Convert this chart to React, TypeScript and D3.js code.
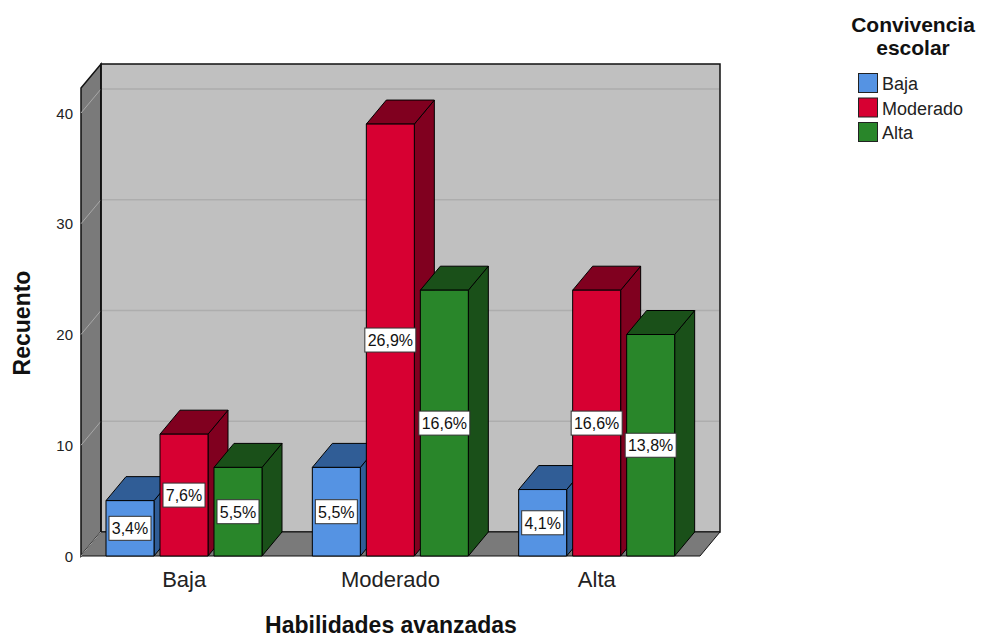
import React, { useEffect, useRef } from 'react';
import * as d3 from 'd3';

// data
const categories = ['Baja', 'Moderado', 'Alta'];
const seriesNames = ['Baja', 'Moderado', 'Alta'];
const bajaCounts = [5, 11, 8];
const moderadoCounts = [8, 39, 24];
const altaCounts = [6, 24, 20];
const percentLabels = [
    ['3,4%', '7,6%', '5,5%'],
    ['5,5%', '26,9%', '16,6%'],
    ['4,1%', '16,6%', '13,8%'],
];
const yTicks = [0, 10, 20, 30, 40];

const counts = [bajaCounts, moderadoCounts, altaCounts];

const frontColors = ['#5593e3', '#d70032', '#29862a'];
const darkColors = ['#305d96', '#80001f', '#1a5019'];

const FONT = '"Liberation Sans", Arial, sans-serif';

const Chart = () => {
    const svgRef = useRef<SVGSVGElement>(null);

    useEffect(() => {
        const svg = d3.select(svgRef.current);
        svg.selectAll('*').remove();

        const left = 81, right = 700, bottom = 556;
        const DX = 20, DY = -24; // depth offset of the 3D box

        const y = d3.scaleLinear().domain([0, 40]).range([bottom, 113]);
        const topVal = y.invert(88);

        const x0 = d3.scaleBand().domain(categories).range([left, right]);
        const x1 = d3.scaleBand().domain(seriesNames).range([25, 181]).paddingInner(0.111);

        const g = svg.append('g');
        const yTop = y(topVal);

        // left wall
        g.append('polygon')
            .attr('points', [[left, yTop], [left + DX, yTop + DY], [left + DX, bottom + DY], [left, bottom]].join(' '))
            .attr('fill', '#7a7a7a').attr('stroke', '#111').attr('stroke-width', 1.5);

        // back wall
        g.append('rect')
            .attr('x', left + DX).attr('y', yTop + DY)
            .attr('width', right - left).attr('height', bottom - yTop)
            .attr('fill', '#c0c0c0').attr('stroke', '#111').attr('stroke-width', 1.5);

        // floor
        g.append('polygon')
            .attr('points', [[left, bottom], [left + DX, bottom + DY], [right + DX, bottom + DY], [right, bottom]].join(' '))
            .attr('fill', '#7a7a7a').attr('stroke', '#111').attr('stroke-width', 1);

        // gridlines
        yTicks.forEach(t => {
            if (t > 0) {
                g.append('line')
                    .attr('x1', left + DX + 1).attr('x2', right + DX - 1)
                    .attr('y1', y(t) + DY).attr('y2', y(t) + DY)
                    .attr('stroke', '#adadad').attr('stroke-width', 1.5);
            }
            g.append('line')
                .attr('x1', left).attr('x2', left + DX)
                .attr('y1', y(t)).attr('y2', y(t) + DY)
                .attr('stroke', '#a8a8a8').attr('stroke-width', 1);
        });
        // redraw left wall front edge
        g.append('line').attr('x1', left + DX).attr('x2', left + DX)
            .attr('y1', yTop + DY).attr('y2', bottom + DY)
            .attr('stroke', '#111').attr('stroke-width', 1.5);

        // bars
        categories.forEach((cat, ci) => {
            seriesNames.forEach((s, si) => {
                const v = counts[ci][si];
                const bx = (x0(cat) as number) + (x1(s) as number);
                const bw = x1.bandwidth();
                const by = y(v);
                const bg = g.append('g').attr('stroke', '#000').attr('stroke-width', 1).attr('stroke-linejoin', 'round');
                bg.append('polygon')
                    .attr('points', [[bx + bw, by], [bx + bw + DX, by + DY], [bx + bw + DX, bottom + DY], [bx + bw, bottom]].join(' '))
                    .attr('fill', darkColors[si]);
                bg.append('polygon')
                    .attr('points', [[bx, by], [bx + DX, by + DY], [bx + bw + DX, by + DY], [bx + bw, by]].join(' '))
                    .attr('fill', darkColors[si]);
                bg.append('rect')
                    .attr('x', bx).attr('y', by).attr('width', bw).attr('height', bottom - by)
                    .attr('fill', frontColors[si]);
            });
        });

        // value labels
        categories.forEach((cat, ci) => {
            seriesNames.forEach((s, si) => {
                const v = counts[ci][si];
                const cx = (x0(cat) as number) + (x1(s) as number) + x1.bandwidth() / 2;
                const cy = (y(v) + bottom) / 2;
                const label = percentLabels[ci][si];
                const w = label.length > 4 ? 51 : 42;
                g.append('rect')
                    .attr('x', cx - w / 2).attr('y', cy - 12)
                    .attr('width', w).attr('height', 24)
                    .attr('fill', '#fff').attr('stroke', '#333').attr('stroke-width', 1);
                g.append('text')
                    .attr('x', cx).attr('y', cy + 6)
                    .attr('text-anchor', 'middle')
                    .attr('font-family', FONT).attr('font-size', 16)
                    .attr('fill', '#111')
                    .text(label);
            });
        });

        // y tick labels
        yTicks.forEach(t => {
            g.append('text')
                .attr('x', 73).attr('y', y(t) + 5.5)
                .attr('text-anchor', 'end')
                .attr('font-family', FONT).attr('font-size', 15)
                .attr('fill', '#222')
                .text(t);
        });

        // category labels
        categories.forEach(cat => {
            g.append('text')
                .attr('x', (x0(cat) as number) + x0.bandwidth() / 2)
                .attr('y', 587)
                .attr('text-anchor', 'middle')
                .attr('font-family', FONT).attr('font-size', 22)
                .attr('fill', '#222')
                .text(cat);
        });

        // axis titles
        svg.append('text')
            .attr('x', 391).attr('y', 633)
            .attr('text-anchor', 'middle')
            .attr('font-family', FONT).attr('font-size', 23).attr('font-weight', 'bold')
            .attr('fill', '#111')
            .text('Habilidades avanzadas');

        svg.append('text')
            .attr('transform', 'translate(30,323) rotate(-90)')
            .attr('text-anchor', 'middle')
            .attr('font-family', FONT).attr('font-size', 23).attr('font-weight', 'bold')
            .attr('fill', '#111')
            .text('Recuento');

        // legend
        const lg = svg.append('g');
        ['Convivencia', 'escolar'].forEach((t, i) => {
            lg.append('text')
                .attr('x', 913).attr('y', 32 + i * 23)
                .attr('text-anchor', 'middle')
                .attr('font-family', FONT).attr('font-size', 21).attr('font-weight', 'bold')
                .attr('fill', '#111')
                .text(t);
        });
        seriesNames.forEach((s, i) => {
            lg.append('rect')
                .attr('x', 858.5).attr('y', 73.5 + i * 24.5)
                .attr('width', 19).attr('height', 19)
                .attr('fill', frontColors[i]).attr('stroke', '#222').attr('stroke-width', 1);
            lg.append('text')
                .attr('x', 882).attr('y', 90 + i * 24.5)
                .attr('font-family', FONT).attr('font-size', 18)
                .attr('fill', '#222')
                .text(s);
        });
    }, []);

    return <svg ref={svgRef} width={986} height={637} style={{ display: 'block' }}></svg>;
};

export default function App() {
    return (
        <div style={{ position: 'absolute', left: 0, top: 0, width: 986, height: 637, background: '#fff' }}>
            <Chart />
        </div>
    );
}
